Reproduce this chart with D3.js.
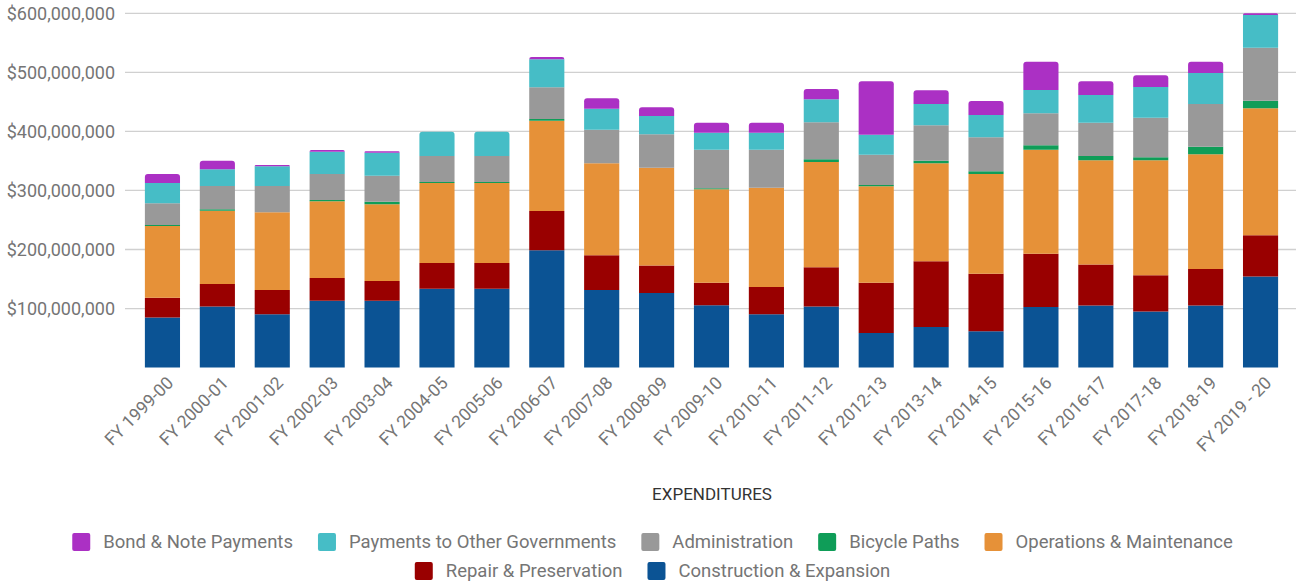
<!doctype html>
<html lang="en">

<head>
  <meta charset="utf-8" />
  <title>Expenditures</title>
  <script src="https://d3js.org/d3.v7.min.js"></script>
  <style>
    body { margin: 0; background: #fff; }
    text { font-family: Roboto, "Noto Sans", sans-serif; }
  </style>
</head>

<body>
  <div id="my_dataviz"></div>
  <script>
    // fiscal years on the x axis
    const years = ["FY 1999-00", "FY 2000-01", "FY 2001-02", "FY 2002-03", "FY 2003-04", "FY 2004-05",
      "FY 2005-06", "FY 2006-07", "FY 2007-08", "FY 2008-09", "FY 2009-10", "FY 2010-11", "FY 2011-12",
      "FY 2012-13", "FY 2013-14", "FY 2014-15", "FY 2015-16", "FY 2016-17", "FY 2017-18", "FY 2018-19",
      "FY 2019 - 20"];

    // values in millions of dollars, bottom to top of the stack
    const construction = [84.7, 103.3, 90.3, 113.4, 113.4, 133.7, 133.7, 198.6, 131.5, 126.4, 105.5, 90.3, 103.3, 58.7, 68.8, 61.5, 102.7, 105.0, 94.8, 105.0, 154.1];
    const repair = [33.8, 38.3, 41.2, 38.4, 33.3, 43.5, 43.5, 66.6, 58.7, 46.3, 38.4, 46.3, 66.6, 85.2, 111.2, 97.6, 90.3, 69.4, 61.5, 62.0, 69.9];
    const operations = [121.3, 124.2, 131.5, 129.8, 129.8, 135.4, 135.4, 153.0, 155.7, 165.9, 158.0, 168.1, 178.3, 163.1, 165.9, 168.8, 176.1, 176.6, 194.7, 194.2, 215.1];
    const bicycle = [1.7, 2.3, 0, 2.3, 4.5, 1.7, 1.7, 2.8, 0, 0, 1.7, 0, 4.5, 2.3, 4.6, 4.5, 7.3, 7.4, 5.1, 13.0, 12.9];
    const administration = [36.7, 39.5, 44.6, 44.0, 44.1, 44.1, 44.1, 53.6, 57.0, 56.4, 65.5, 64.4, 62.6, 51.3, 59.8, 57.6, 54.2, 56.4, 67.2, 72.2, 89.8];
    const payments = [34.4, 28.2, 33.3, 37.8, 38.9, 41.1, 41.1, 47.4, 35.6, 31.1, 28.8, 28.8, 39.0, 33.9, 36.1, 37.8, 39.5, 46.8, 51.9, 52.5, 55.3];
    const bond = [15.2, 14.7, 2.2, 2.8, 2.3, 0, 0, 4.0, 17.5, 14.6, 16.9, 16.9, 17.5, 90.3, 23.1, 23.7, 48.0, 23.2, 19.7, 19.2, 2.9];

    const yTicks = [100, 200, 300, 400, 500, 600];

    const series = [
      { name: "Construction & Expansion", values: construction, color: "#0b5394" },
      { name: "Repair & Preservation", values: repair, color: "#990000" },
      { name: "Operations & Maintenance", values: operations, color: "#e69138" },
      { name: "Bicycle Paths", values: bicycle, color: "#0f9d58" },
      { name: "Administration", values: administration, color: "#999999" },
      { name: "Payments to Other Governments", values: payments, color: "#46bdc6" },
      { name: "Bond & Note Payments", values: bond, color: "#ab30c4" }
    ];
    // legend runs top of stack first
    const legendOrder = [6, 5, 4, 3, 2, 1, 0];

    const width = 1296,
      height = 584;

    const svg = d3.select("#my_dataviz")
      .append("svg")
      .attr("width", width)
      .attr("height", height);

    const x = d3.scaleBand()
      .domain(years)
      .range([135, 1288])
      .paddingInner(0.36)
      .paddingOuter(0.18);

    const y = d3.scaleLinear()
      .domain([0, 600])
      .range([367.6, 13.3]);

    // gridlines + y labels
    const fmt = d3.format(",");
    const grid = svg.append("g");
    grid.selectAll("line")
      .data(yTicks)
      .join("line")
      .attr("x1", 125)
      .attr("x2", width)
      .attr("y1", d => y(d))
      .attr("y2", d => y(d))
      .attr("stroke", "#d0d0d0")
      .attr("stroke-width", 1.3);
    grid.selectAll("text")
      .data(yTicks)
      .join("text")
      .attr("x", 115)
      .attr("y", d => y(d))
      .attr("dy", "0.35em")
      .attr("text-anchor", "end")
      .style("font-size", "18px")
      .attr("fill", "#757575")
      .text(d => "$" + fmt(d * 1e6));

    // build the stack by hand so the top segment can get round corners
    const rows = years.map((yr, i) => {
      let base = 0;
      const segs = series.map(s => {
        const seg = { year: yr, y0: base, y1: base + s.values[i], color: s.color };
        base += s.values[i];
        return seg;
      }).filter(s => s.y1 > s.y0);
      segs[segs.length - 1].top = true;
      return segs;
    });

    function segPath(d) {
      const x0 = x(d.year), w = x.bandwidth();
      const yt = y(d.y1), yb = y(d.y0);
      const r = d.top ? Math.min(3, (yb - yt)) : 0;
      return `M${x0},${yb}V${yt + r}Q${x0},${yt} ${x0 + r},${yt}H${x0 + w - r}Q${x0 + w},${yt} ${x0 + w},${yt + r}V${yb}Z`;
    }

    svg.append("g")
      .selectAll("g")
      .data(rows)
      .join("g")
      .selectAll("path")
      .data(d => d)
      .join("path")
      .attr("d", segPath)
      .attr("fill", d => d.color);

    // x labels, rotated
    svg.append("g")
      .selectAll("text")
      .data(years)
      .join("text")
      .attr("transform", d => `translate(${x(d) + x.bandwidth() / 2 + 12}, 384) rotate(-45)`)
      .attr("text-anchor", "end")
      .style("font-size", "17.5px")
      .attr("fill", "#757575")
      .text(d => d);

    // axis title
    svg.append("text")
      .attr("x", 712)
      .attr("y", 500)
      .attr("text-anchor", "middle")
      .style("font-size", "17px")
      .attr("fill", "#333")
      .text("EXPENDITURES");

    // legend, two centred rows
    const legendRows = [legendOrder.slice(0, 5), legendOrder.slice(5)];
    const rowY = [542, 571];
    const sw = 18, gapText = 13, gapItem = 25;
    legendRows.forEach((row, ri) => {
      const g = svg.append("g");
      let cx = 0;
      row.forEach(k => {
        const s = series[k];
        const item = g.append("g").attr("transform", `translate(${cx},0)`);
        item.append("rect")
          .attr("y", -sw / 2)
          .attr("width", sw)
          .attr("height", sw)
          .attr("rx", 2)
          .attr("fill", s.color);
        const t = item.append("text")
          .attr("x", sw + gapText)
          .attr("dy", "0.35em")
          .style("font-size", "18.5px")
          .attr("fill", "#757575")
          .text(s.name);
        cx += sw + gapText + t.node().getComputedTextLength() + gapItem;
      });
      const total = cx - gapItem;
      g.attr("transform", `translate(${652.5 - total / 2},${rowY[ri]})`);
    });
  </script>
</body>

</html>
